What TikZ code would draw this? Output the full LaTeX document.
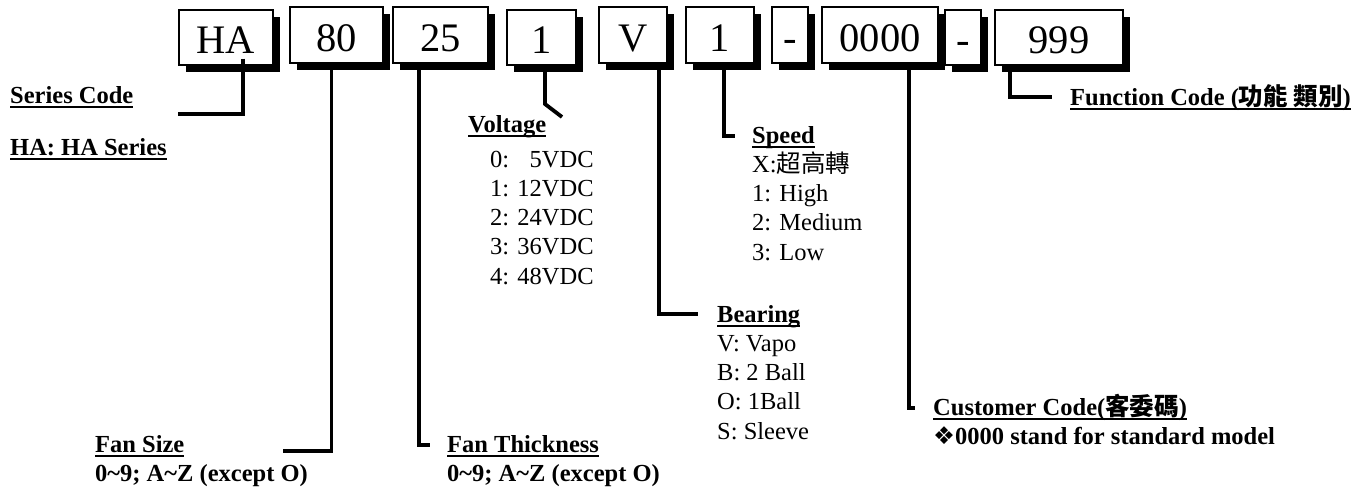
\documentclass[tikz,border=0pt]{standalone}
\usepackage{fontspec}
\setmainfont{Liberation Serif}
\newfontfamily\cjk{Noto Sans CJK TC}
\newfontfamily\dejavu{DejaVu Sans}
\usetikzlibrary{shadows}
\newcommand\myul[1]{\setbox0=\hbox{#1}\rlap{\rule[-5pt]{\wd0}{2pt}}\box0}
\tikzset{
  codebox/.style={draw, line width=1.1pt, fill=white, inner sep=0pt,
    text height=32pt, text depth=0pt,
    font=\fontsize{40.5}{44}\selectfont,
    drop shadow={shadow xshift=7pt, shadow yshift=-7pt, opacity=1, fill=black}},
  conn/.style={line width=3.8pt, line join=miter},
  lbl/.style={anchor=base west, inner sep=0pt, font=\fontsize{24.5}{29.3}\selectfont},
  ttl/.style={lbl, font=\fontsize{24.5}{29.3}\selectfont\bfseries}
}
\begin{document}
\begin{tikzpicture}[x=1pt,y=1pt]
\useasboundingbox (0,0) rectangle (1369,-488);
% code boxes
\node[codebox, minimum width=94, minimum height=55] (hA) at (226,-37.5) {HA};
\node[codebox, minimum width=93, minimum height=56] (b80) at (336.5,-35) {80};
\node[codebox, minimum width=95, minimum height=56] (b25) at (440.5,-35) {25};
\node[codebox, minimum width=69, minimum height=55] (bV1) at (541.5,-37.5) {1};
\node[codebox, minimum width=68, minimum height=56] (bV) at (633,-35) {V};
\node[codebox, minimum width=68, minimum height=56] (bS) at (720,-35) {1};
\node[codebox, minimum width=36, minimum height=56] (d1) at (790,-35) {-};
\node[codebox, minimum width=116, minimum height=56] (b0000) at (880,-35) {0000};
\node[codebox, minimum width=36, minimum height=55] (d2) at (963,-37.5) {-};
\node[codebox, minimum width=128, minimum height=55] (b999) at (1059,-37.5) {999};
% labels
\node[ttl] (tSer) at (10,-103) {\myul{Series Code}};
\node[ttl] (tHA) at (10,-155) {\myul{HA: HA Series}};
\node[ttl] (tFS) at (95,-452) {\vtop{\hbox{\myul{Fan Size}}\hbox{0\textasciitilde 9; A\textasciitilde Z (except O)}}};
\node[ttl] (tFT) at (447,-452) {\vtop{\hbox{\myul{Fan Thickness}}\hbox{0\textasciitilde 9; A\textasciitilde Z (except O)}}};
\node[ttl] (tVol) at (468,-132) {\myul{Voltage}};
\node[lbl] (lVol) at (490,-167) {\vtop{\hbox{0: \phantom{1}5VDC}\hbox{1: 12VDC}\hbox{2: 24VDC}\hbox{3: 36VDC}\hbox{4: 48VDC}}};
\node[lbl] (tSp) at (752,-143) {\vtop{\hbox{\bfseries\myul{Speed}}\hbox{X:{\cjk 超高轉}}\hbox{1: High}\hbox{2: Medium}\hbox{3: Low}}};
\node[lbl] (tBr) at (717,-322) {\vtop{\hbox{\bfseries\myul{Bearing}}\hbox{V: Vapo}\hbox{B: 2 Ball}\hbox{O: 1Ball}\hbox{S: Sleeve}}};
\node[ttl] (tCu) at (933,-415) {\vtop{\hbox{\myul{Customer Code({\cjk 客委碼})}}\hbox{{\dejavu\mdseries ❖}0000 stand for standard model}}};
\node[ttl] (tFn) at (1070,-105) {\myul{Function Code ({\cjk 功能 類別})}};
% connector free ends
\coordinate (cSer) at (178,-114);
\coordinate (cFS) at (283,-451);
\coordinate (cFT) at (430,-445);
\coordinate (cVolK) at (545,-104);
\coordinate (cVol) at (562,-117);
\coordinate (cBr) at (698,-314);
\coordinate (cSp) at (735,-136);
\coordinate (cCu) at (915,-408);
\coordinate (cFn) at (1052,-97);
% connectors
\draw[conn] ([xshift=17pt,yshift=7pt]hA.south) |- (cSer);
\draw[conn] ([xshift=-5pt]b80.south) |- (cFS);
\draw[conn] ([xshift=-21.5pt]b25.south) |- (cFT);
\draw[conn] ([xshift=3.5pt]bV1.south) -- (cVolK) -- (cVol);
\draw[conn] ([xshift=26pt]bV.south) |- (cBr);
\draw[conn] ([xshift=4pt]bS.south) |- (cSp);
\draw[conn] ([xshift=29pt]b0000.south) |- (cCu);
\draw[conn] ([xshift=-49pt]b999.south) |- (cFn);
\end{tikzpicture}
\end{document}
